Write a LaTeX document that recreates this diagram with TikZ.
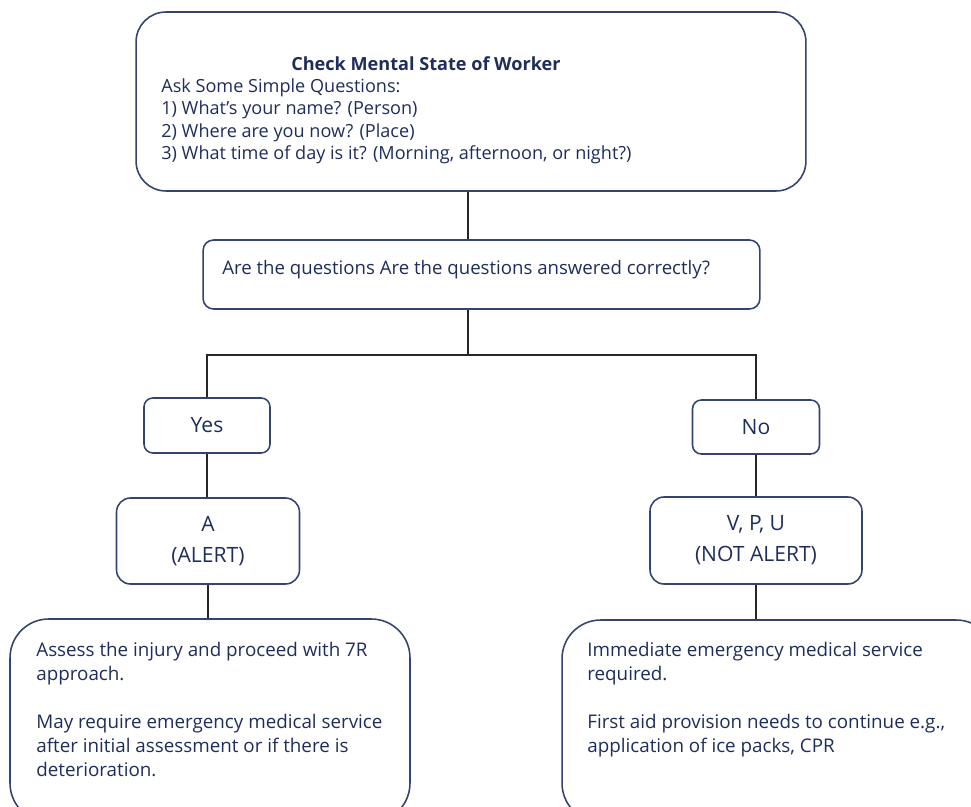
\documentclass[tikz,border=0pt]{standalone}
\usepackage{fontspec}
\setmainfont{Open Sans}
\newfontfamily\labelfont{Open Sans}
\definecolor{navy}{HTML}{1F2D5C}
\definecolor{boxline}{HTML}{34446E}
\tikzset{
  box/.style={draw=boxline, line width=0.9pt, rounded corners=#1, text=navy, inner sep=0pt},
  box/.default=5pt,
  link/.style={draw=black!85, line width=0.7pt},
  body/.style={text=navy, align=left, anchor=north west, inner sep=0pt},
  tag/.style={font=\labelfont\fontsize{12}{17.5}\selectfont, align=center},
}
\begin{document}
\begin{tikzpicture}[x=0.02cm, y=-0.02cm]
    \useasboundingbox (0,0) rectangle (971,807);
    % Check
    \node[box=17pt, minimum width=13.4cm, minimum height=3.58cm] (check) at (471,101.5) {};
    \node[body, font=\fontsize{10.3}{12.75}\selectfont] (checktext) at (161,56)
        {\hspace*{2.6cm}\textbf{Check Mental State of Worker}\\
         Ask Some Simple Questions:\\
         1) What's your name? (Person)\\
         2) Where are you now? (Place)\\
         3) What time of day is it? (Morning, afternoon, or night?)};

    % Question
    \node[box=6pt, minimum width=11.14cm, minimum height=1.38cm] (quest) at (481.5,274.5) {};
    \node[body, font=\fontsize{10.6}{13}\selectfont] (questtext) at (222,260)
        {Are the questions Are the questions answered correctly?};

    % Answers
    \node[box, tag, minimum width=2.52cm, minimum height=1.1cm] (yes) at (207,425.5) {Yes};
    \node[box, tag, minimum width=2.54cm, minimum height=1.08cm] (no) at (756,427) {No};

    % Levels
    \node[box=8pt, tag, minimum width=3.66cm, minimum height=1.72cm] (alert) at (208,541) {A\\(ALERT)};
    \node[box=8pt, tag, minimum width=4.24cm, minimum height=1.74cm] (notalert) at (756,540.5) {V, P, U\\(NOT ALERT)};

    % Actions
    \node[box=22pt, minimum width=8cm, minimum height=4.06cm] (advice) at (210,720.5) {};
    \node[body, font=\fontsize{10.7}{13.6}\selectfont] (advicetext) at (36,642)
        {Assess the injury and proceed with 7R\\
         approach.\\[13.6pt]
         May require emergency medical service\\
         after initial assessment or if there is\\
         deterioration.};
    \node[box=22pt, minimum width=8.66cm, minimum height=4.04cm] (urgent) at (778.5,721) {};
    \node[body, font=\fontsize{10.7}{13.6}\selectfont] (urgenttext) at (587,642)
        {Immediate emergency medical service\\
         required.\\[13.6pt]
         First aid provision needs to continue e.g.,\\
         application of ice packs, CPR};

    % Connectors
    \coordinate (split) at (468,355);
    \draw[link] (split |- check.south) -- (split |- quest.north);
    \draw[link] (split |- quest.south) -- (split);
    \draw[link] (split) -| (yes.north);
    \draw[link] (split) -| (no.north);
    \draw[link] (yes.south) -- (yes.south |- alert.north);
    \draw[link] (no.south) -- (no.south |- notalert.north);
    \draw[link] (alert.south) -- (alert.south |- advice.north);
    \draw[link] (notalert.south) -- (notalert.south |- urgent.north);
\end{tikzpicture}
\end{document}
